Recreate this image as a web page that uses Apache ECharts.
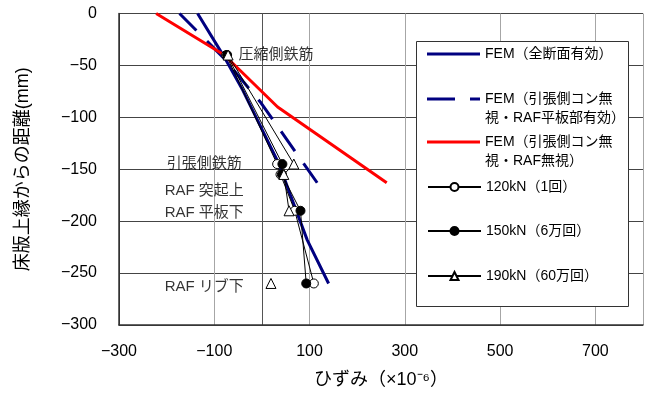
<!DOCTYPE html>
<html>
<head>
<meta charset="utf-8">
<script src="https://cdn.jsdelivr.net/npm/echarts@6/dist/echarts.min.js"></script>
<style>html,body{margin:0;padding:0;background:#fff;}#c{width:646px;height:394px;}</style>
</head>
<body>
<div id="c"></div>
<script>
// ---- data ----
const depthPoints = [-40, -145, -155, -190, -260];      // measurement depths (mm)
const strain120 = [-75, 32, 39, 69, 109];
const strain150 = [-73, 43, 42, 81, 93];
const strain190 = [-71, 67, 46, 57, 19];                  // last point not connected

const femFullX = [-135, -79, -40, 36, 60, 95, 140];
const femFullY = [0, -42, -74, -145, -175, -218, -260];
const femRafX = [-173, -82, -2, 116];
const femRafY = [0, -42, -86, -163];
const femNoRafX = [-222, -79, 33, 262];
const femNoRafY = [0, -40, -90, -163];

const seriesNames = [
  'FEM（全断面有効）',
  'FEM（引張側コン無視・RAF平板部有効）',
  'FEM（引張側コン無視・RAF無視）',
  '120kN（1回）',
  '150kN（6万回）',
  '190kN（60万回）'
];
const legendLabels = [
  'FEM（全断面有効）',
  'FEM（引張側コン無\n視・RAF平板部有効）',
  'FEM（引張側コン無\n視・RAF無視）',
  '120kN（1回）',
  '150kN（6万回）',
  '190kN（60万回）'
];
const xTickLabels = [-300, -100, 100, 300, 500, 700];
const yTickLabels = [0, -50, -100, -150, -200, -250, -300];

const annoTexts = ['圧縮側鉄筋', '引張側鉄筋', 'RAF 突起上', 'RAF 平板下', 'RAF リブ下'];
const annoX = [-49, -121, -121, -121, -121];
const annoY = [-40, -145, -171, -192, -263];

// ---- helpers ----
const zip = (xs, ys) => xs.map((x, i) => [x, ys[i]]);
const minus = v => String(v).replace('-', '−');
const FONT = '"Liberation Sans", "Noto Sans CJK JP", sans-serif';

const s190data = zip(strain190, depthPoints);
const s190line = s190data.slice(0, 4).concat(['-'], s190data.slice(4));

// legend icons: solid / dashed bars for FEM, default line+symbol for tests
const legendIcons = [
  'path://M0,0h53v3h-53z',
  'path://M0,0h28v3h-28z M43,0h10v3h-10z',
  'path://M0,0h53v3h-53z',
  null, null, null
];
const legendCenters = [54, 99, 142, 187, 231, 276];
const LH = 19;
const legends = seriesNames.map((n, i) => {
  const lines = legendLabels[i].split('\n').length;
  const nLines = lines > 1 ? lines + 1 : 1;
  const item = legendIcons[i] ? { name: n, icon: legendIcons[i] } : { name: n };
  return {
    data: [item],
    left: 427,
    top: legendCenters[i] - nLines * LH / 2,
    padding: 0,
    itemWidth: 53,
    itemHeight: legendIcons[i] ? 3 : 10,
    itemGap: 0,
    selectedMode: false,
    formatter: name => {
      const lab = legendLabels[seriesNames.indexOf(name)];
      return lab.indexOf('\n') >= 0 ? '\n' + lab : lab;
    },
    textStyle: { fontFamily: FONT, fontSize: 14, color: '#000', lineHeight: LH }
  };
});

const gray = '#a6a6a6', clear = 'rgba(0,0,0,0)';

const chart = echarts.init(document.getElementById('c'), null, { renderer: 'canvas' });
chart.setOption({
  animation: false,
  backgroundColor: '#fff',
  grid: { left: 119, right: 1, top: 13.5, bottom: 68.5, containLabel: false },
  legend: legends,
  graphic: [{
    type: 'rect', z: 3,
    shape: { x: 416.5, y: 41.5, width: 212, height: 265 },
    style: { fill: '#fff', stroke: '#333', lineWidth: 1 }
  }],
  xAxis: {
    type: 'value', min: -300, max: 800, interval: 100,
    name: 'ひずみ（×10⁻⁶）', nameLocation: 'middle', nameGap: 46,
    nameTextStyle: { fontFamily: FONT, fontSize: 18, color: '#000' },
    axisLine: { onZero: false, lineStyle: { color: '#333', width: 1.5 } },
    axisTick: { show: false },
    axisLabel: {
      margin: 19, fontFamily: FONT, fontSize: 16, color: '#000',
      formatter: v => xTickLabels.indexOf(v) >= 0 ? minus(v) : ''
    },
    splitLine: { show: true, lineStyle: { width: 1, color: [
      '#333', clear, gray, '#555', gray, clear, gray, clear, gray, clear, gray, gray ] } }
  },
  yAxis: {
    type: 'value', min: -300, max: 0, interval: 50,
    name: '床版上縁からの距離(mm)', nameLocation: 'middle', nameGap: 87, nameRotate: 90,
    nameTextStyle: { fontFamily: FONT, fontSize: 18, color: '#000' },
    axisLine: { onZero: false, lineStyle: { color: '#333', width: 1.5 } },
    axisTick: { show: false },
    axisLabel: {
      margin: 22, fontFamily: FONT, fontSize: 16, color: '#000',
      formatter: v => yTickLabels.indexOf(v) >= 0 ? minus(v) : ''
    },
    splitLine: { show: true, lineStyle: { color: '#444', width: 1 } }
  },
  series: [
    { name: seriesNames[0], type: 'line', data: zip(femFullX, femFullY), symbol: 'none',
      lineStyle: { color: '#000080', width: 3 }, itemStyle: { color: '#000080' } },
    { name: seriesNames[1], type: 'line', data: zip(femRafX, femRafY), symbol: 'none',
      lineStyle: { color: '#000080', width: 3, type: [24, 15], cap: 'butt' }, itemStyle: { color: '#000080' } },
    { name: seriesNames[2], type: 'line', data: zip(femNoRafX, femNoRafY), symbol: 'none',
      lineStyle: { color: '#ff0000', width: 3 }, itemStyle: { color: '#ff0000' } },
    { name: seriesNames[3], type: 'line', data: zip(strain120, depthPoints), symbol: 'circle', symbolSize: 9,
      lineStyle: { color: '#000', width: 1 }, itemStyle: { color: '#fff', borderColor: '#000', borderWidth: 1 } },
    { name: seriesNames[4], type: 'line', data: zip(strain150, depthPoints), symbol: 'circle', symbolSize: 9,
      lineStyle: { color: '#000', width: 1 }, itemStyle: { color: '#000', borderColor: '#000', borderWidth: 1 } },
    { name: seriesNames[5], type: 'line', data: s190line, symbol: 'triangle', symbolSize: 10,
      lineStyle: { color: '#000', width: 1 }, itemStyle: { color: '#fff', borderColor: '#000', borderWidth: 1 } },
    { name: 'annotations', type: 'scatter', silent: true, symbolSize: 0, z: 5,
      data: annoTexts.map((t, i) => ({
        value: [annoX[i], annoY[i]],
        label: {
          show: true, formatter: t,
          position: i === 0 ? 'right' : 'inside', distance: 0,
          fontFamily: FONT, fontSize: 15, color: '#000'
        }
      }))
    }
  ]
});
</script>
</body>
</html>
